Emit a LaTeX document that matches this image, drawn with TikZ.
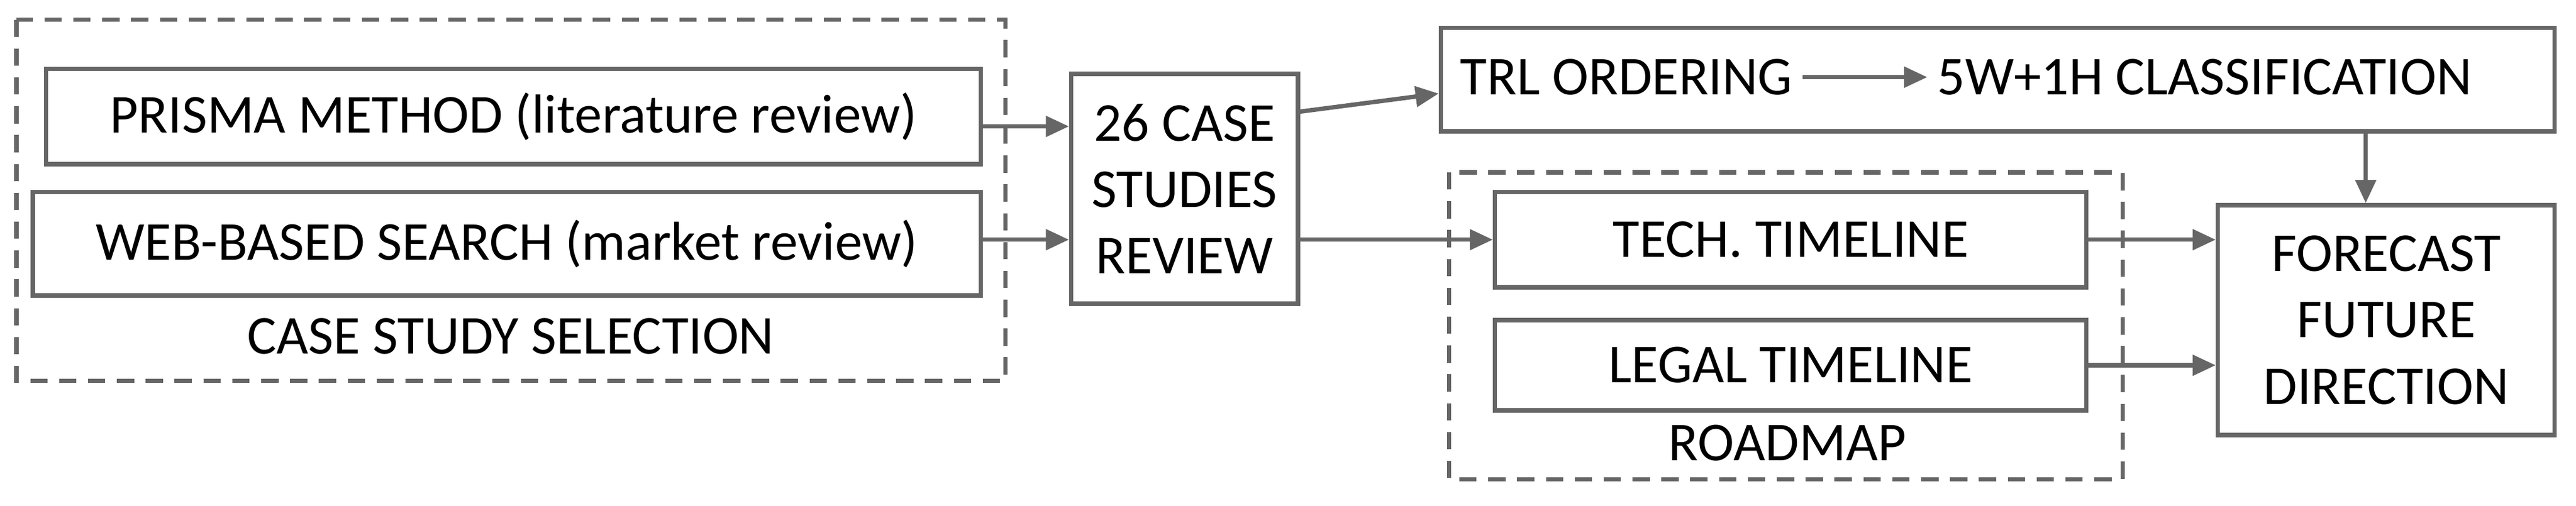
\documentclass[tikz,border=0pt]{standalone}
\usepackage{fontspec}
\setmainfont{Carlito}
\usetikzlibrary{arrows.meta, positioning}
\tikzstyle{box} = [rectangle, draw=black!60, line width=1.5pt, inner sep=0pt, align=center]
\tikzstyle{group} = [rectangle, draw=black!60, line width=1.5pt, dashed, dash pattern=on 6pt off 4pt]
\tikzstyle{arrow} = [draw=black!60, line width=1.5pt, -{Triangle[length=8pt, width=7pt]}]
\begin{document}
\begin{tikzpicture}[x=0.02cm, y=-0.02cm, font=\fontsize{19}{23}\selectfont]
\useasboundingbox (0,0) rectangle (1568,308);

% Case study selection
\draw [group] (10,12) rectangle (612,232);
\node (prisma) [box, minimum width=569*0.02cm, minimum height=58*0.02cm] at (312.5,71) {PRISMA METHOD (literature review)};
\node (web) [box, minimum width=577*0.02cm, minimum height=63*0.02cm] at (308.5,148.5) {WEB-BASED SEARCH (market review)};
\node (sel) at (311,205) {CASE STUDY SELECTION};

% Review
\node (review) [box, minimum width=138*0.02cm, minimum height=140*0.02cm] at (721,115) {26 CASE\\STUDIES\\REVIEW};

% Classification
\node (trl) [box, minimum width=678*0.02cm, minimum height=63*0.02cm] at (1216,48.5) {};
\node (order) at (990,47) {TRL ORDERING};
\node (wh) at (1342,47) {5W+1H CLASSIFICATION};

% Roadmap
\draw [group] (882,105) rectangle (1292,292);
\node (tech) [box, minimum width=360*0.02cm, minimum height=58*0.02cm] at (1090,146) {TECH. TIMELINE};
\node (legal) [box, minimum width=360*0.02cm, minimum height=55*0.02cm] at (1090,222.5) {LEGAL TIMELINE};
\node (road) at (1088,270) {ROADMAP};

% Forecast
\node (fc) [box, minimum width=205*0.02cm, minimum height=140*0.02cm] at (1452.5,195) {FORECAST\\FUTURE\\DIRECTION};

% Arrows
\draw [arrow] (prisma.east |- 0,77) -- (review.west |- 0,77);
\draw [arrow] (web.east |- 0,146) -- (review.west |- 0,146);
\draw [arrow] (review.east |- 0,68) -- (trl.west |- 0,57);
\draw [arrow] (review.east |- 0,146) -- (tech.west);
\draw [arrow] (order.east) -- (wh.west);
\draw [arrow] (trl.south -| 1440,0) -- (fc.north -| 1440,0);
\draw [arrow] (tech.east) -- (fc.west |- tech.east);
\draw [arrow] (legal.east) -- (fc.west |- legal.east);

\end{tikzpicture}
\end{document}
